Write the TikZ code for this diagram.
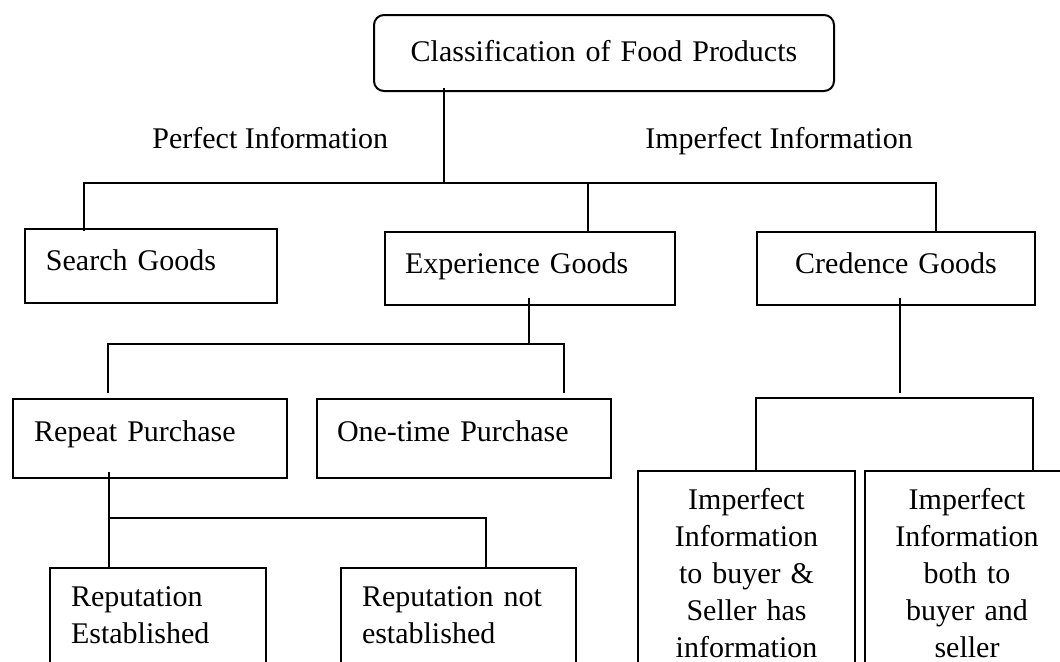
\documentclass[tikz,border=0pt]{standalone}
\usepackage{fontspec}
\setmainfont{Liberation Serif}
\usepackage{tikz}

\tikzset{
  catbox/.style={draw, line width=1pt, anchor=north west, inner ysep=0pt,
    inner xsep=10.5pt, align=left, font=\fontsize{15}{18.5}\selectfont},
  midbox/.style={catbox, inner xsep=0pt, align=center},
  link/.style={line width=0.75pt},
  rimline/.style={line width=1pt}
}

\begin{document}
\begin{tikzpicture}[x=0.5pt,y=-0.5pt]
  \useasboundingbox (0,0) rectangle (1060,661);
  \clip (0,0) rectangle (1060,661);

  % boxes
  \node[midbox, rounded corners=5pt, text width=230pt, text height=23pt, text depth=15pt]
    (root) at (373,14) {Classification of Food Products};
  \node[catbox, text width=105pt, text height=20.5pt, text depth=16.5pt]
    (search) at (24,228) {Search Goods};
  \node[catbox, inner xsep=10pt, text width=125pt, text height=20.5pt, text depth=16pt]
    (exper) at (384,231) {Experience Goods};
  \node[midbox, text width=139pt, text height=20.5pt, text depth=16pt]
    (cred) at (756,231) {Credence Goods};
  \node[catbox, text width=116pt, text height=21pt, text depth=18.5pt]
    (repeat) at (12,398) {Repeat Purchase};
  \node[catbox, inner xsep=10pt, text width=127pt, text height=21pt, text depth=18.5pt]
    (onetime) at (316,398) {One-time Purchase};
  \node[catbox, text width=87pt, text height=19pt, text depth=60pt]
    (repest) at (49,567) {Reputation\\Established};
  \node[catbox, text width=96.5pt, text height=19pt, text depth=60pt]
    (repnot) at (340,567) {Reputation not\\established};
  \node[midbox, text width=108.5pt, text height=19pt, text depth=100pt]
    (impone) at (637,470) {Imperfect\\Information\\to buyer \&\\Seller has\\information};
  \node[midbox, text width=102pt, text height=19pt, text depth=100pt]
    (imptwo) at (864,470) {Imperfect\\Information\\both to\\buyer and\\seller};

  % branch labels
  \node[anchor=base west, inner sep=0pt, font=\fontsize{15}{18.5}\selectfont]
    (perf) at (152,148) {Perfect Information};
  \node[anchor=base west, inner sep=0pt, font=\fontsize{15}{18.5}\selectfont]
    (imperf) at (645,148) {Imperfect Information};

  % bus points
  \coordinate (b1s) at (444,183);
  \coordinate (b1w) at (84,183);
  \coordinate (b1m) at (588,183);
  \coordinate (b1e) at (936,183);
  \coordinate (b2s) at (529,344);
  \coordinate (b2w) at (108,344);
  \coordinate (b2e) at (564,344);
  \coordinate (b3w) at (109,518);
  \coordinate (b3e) at (486,518);
  \coordinate (b4s) at (900,398);
  \coordinate (b4w) at (756,398);
  \coordinate (b4e) at (1033,398);

  % connectors
  \draw[link] ([yshift=2pt]root.south -| b1s) -- (b1s);
  \draw[link] ([yshift=-1.5pt]search.north -| b1w) -- (b1w) -- (b1e) -- (cred.north -| b1e);
  \draw[link] (b1m) -- (exper.north -| b1m);

  \draw[link] ([yshift=4pt]exper.south -| b2s) -- (b2s);
  \draw[link] ([yshift=2.5pt]repeat.north -| b2w) -- (b2w) -- (b2e) -- ([yshift=2.5pt]onetime.north -| b2e);

  \draw[link] ([yshift=3.5pt]repeat.south -| b3w) -- (b3w) -- (b3e) -- (repnot.north -| b3e);
  \draw[link] (b3w) -- (repest.north -| b3w);

  \draw[link] ([yshift=4pt]cred.south -| b4s) -- ([yshift=2.5pt]b4s);
  \draw[rimline] (impone.north -| b4w) -- (b4w) -- (b4e) -- (imptwo.north -| b4e);
\end{tikzpicture}
\end{document}
